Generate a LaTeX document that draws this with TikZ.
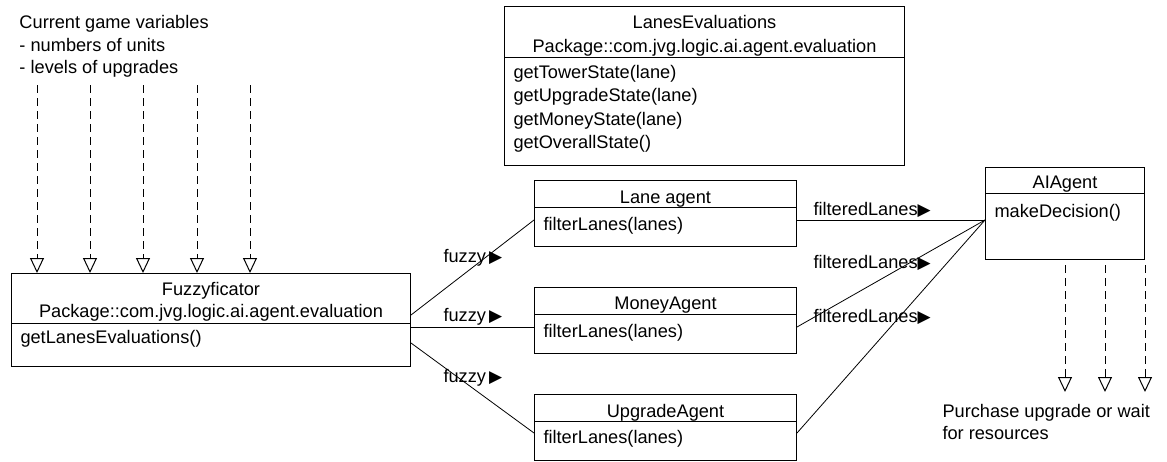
\documentclass[tikz,border=0pt]{standalone}
\usepackage{fontspec}
\setmainfont{Liberation Sans}
\newfontfamily\symfont{DejaVu Sans}
\usetikzlibrary{arrows.meta}
% small filled triangle that marks the reading direction of an association
\newcommand{\dirmark}{{\symfont\fontsize{17}{17}\selectfont ▶}}

\tikzset{
  cls/.style={draw, rectangle, anchor=north west, inner sep=0pt},
  txt/.style={anchor=base west, inner sep=0pt},
  ttl/.style={anchor=base, inner sep=0pt},
  dep/.style={dash pattern=on 8pt off 5pt,
    -{Triangle[open, width=14pt, length=15pt]}},
  assoc/.style={line width=0.8pt},
}

\begin{document}
\begin{tikzpicture}[x=1pt, y=-1pt, line width=1pt,
  font=\fontsize{18.2}{22}\selectfont]
\useasboundingbox (0,0) rectangle (1167,461);
\fill[white] (0,0) rectangle (1167,461);

% ---- inputs -------------------------------------------------------
\node[txt] (in1) at (19,28) {Current game variables};
\node[txt] (in2) at (19,51) {- numbers of units};
\node[txt] (in3) at (19,73) {- levels of upgrades};

% ---- LanesEvaluations ---------------------------------------------
\node[cls, minimum width=400pt, minimum height=159pt] (le) at (504,6) {};
\draw (le.west |- 0,57) -- (le.east |- 0,57);
\node[ttl] (leT) at (le.north |- 0,28) {LanesEvaluations};
\node[ttl] (leP) at (le.north |- 0,52) {Package::com.jvg.logic.ai.agent.evaluation};
\node[txt] (le1) at (513,78) {getTowerState(lane)};
\node[txt] (le2) at (513,101) {getUpgradeState(lane)};
\node[txt] (le3) at (513,125) {getMoneyState(lane)};
\node[txt] (le4) at (513,148) {getOverallState()};

% ---- Fuzzyficator -------------------------------------------------
\node[cls, minimum width=399pt, minimum height=93pt] (fz) at (11,273) {};
\draw (fz.west |- 0,323) -- (fz.east |- 0,323);
\node[ttl] (fzT) at (fz.north |- 0,295) {Fuzzyficator};
\node[ttl] (fzP) at (fz.north |- 0,317) {Package::com.jvg.logic.ai.agent.evaluation};
\node[txt] (fz1) at (20,343) {getLanesEvaluations()};

% ---- agents -------------------------------------------------------
\node[cls, minimum width=262pt, minimum height=66pt] (la) at (534,180) {};
\draw (la.west |- 0,207) -- (la.east |- 0,207);
\node[ttl] (laT) at (la.north |- 0,203) {Lane agent};
\node[txt] (la1) at (543,230) {filterLanes(lanes)};

\node[cls, minimum width=262pt, minimum height=66pt] (ma) at (534,287) {};
\draw (ma.west |- 0,314) -- (ma.east |- 0,314);
\node[ttl] (maT) at (ma.north |- 0,309) {MoneyAgent};
\node[txt] (ma1) at (543,337) {filterLanes(lanes)};

\node[cls, minimum width=262pt, minimum height=66pt] (ua) at (534,394) {};
\draw (ua.west |- 0,421) -- (ua.east |- 0,421);
\node[ttl] (uaT) at (ua.north |- 0,417) {UpgradeAgent};
\node[txt] (ua1) at (543,443) {filterLanes(lanes)};

% ---- AIAgent ------------------------------------------------------
\node[cls, minimum width=159pt, minimum height=92pt] (ai) at (985,167) {};
\draw (ai.west |- 0,193) -- (ai.east |- 0,193);
\node[ttl] (aiT) at (ai.north |- 0,188) {AIAgent};
\node[txt] (ai1) at (994,217) {makeDecision()};

% ---- input dependencies -------------------------------------------
\foreach \x [count=\i] in {37,90,143,197,250} {
  \coordinate (src\i) at (\x,85);
  \draw[dep] (src\i) -- (src\i |- fz.north);
}

% ---- associations Fuzzyficator -> agents --------------------------
\draw[assoc] (fz.east |- 0,315) -- (la.west |- 0,220);
\draw[assoc] (fz.east |- 0,327) -- (ma.west |- 0,327);
\draw[assoc] (fz.east |- 0,343) -- (ua.west |- 0,433);
\node[txt] (fy1) at (443,262) {fuzzy\,\dirmark};
\node[txt] (fy2) at (443,321) {fuzzy\,\dirmark};
\node[txt] (fy3) at (443,382) {fuzzy\,\dirmark};

% ---- associations agents -> AIAgent -------------------------------
\coordinate (aiIn) at (ai.west |- 0,220);
\draw[assoc] (la.east |- 0,220) -- (aiIn);
\draw[assoc] (ma.east |- 0,327) -- (aiIn);
\draw[assoc] (ua.east |- 0,433) -- (aiIn);
\node[txt] (fl1) at (813,215) {filteredLanes\dirmark};
\node[txt] (fl2) at (813,268) {filteredLanes\dirmark};
\node[txt] (fl3) at (813,322) {filteredLanes\dirmark};

% ---- decision outputs ---------------------------------------------
\foreach \x [count=\i] in {1065,1105,1145} {
  \coordinate (dst\i) at (\x,392);
  \draw[dep] (dst\i |- 0,265) -- (dst\i);
}
\node[txt] (out1) at (942,417) {Purchase upgrade or wait};
\node[txt] (out2) at (942,439) {for resources};
\end{tikzpicture}
\end{document}
